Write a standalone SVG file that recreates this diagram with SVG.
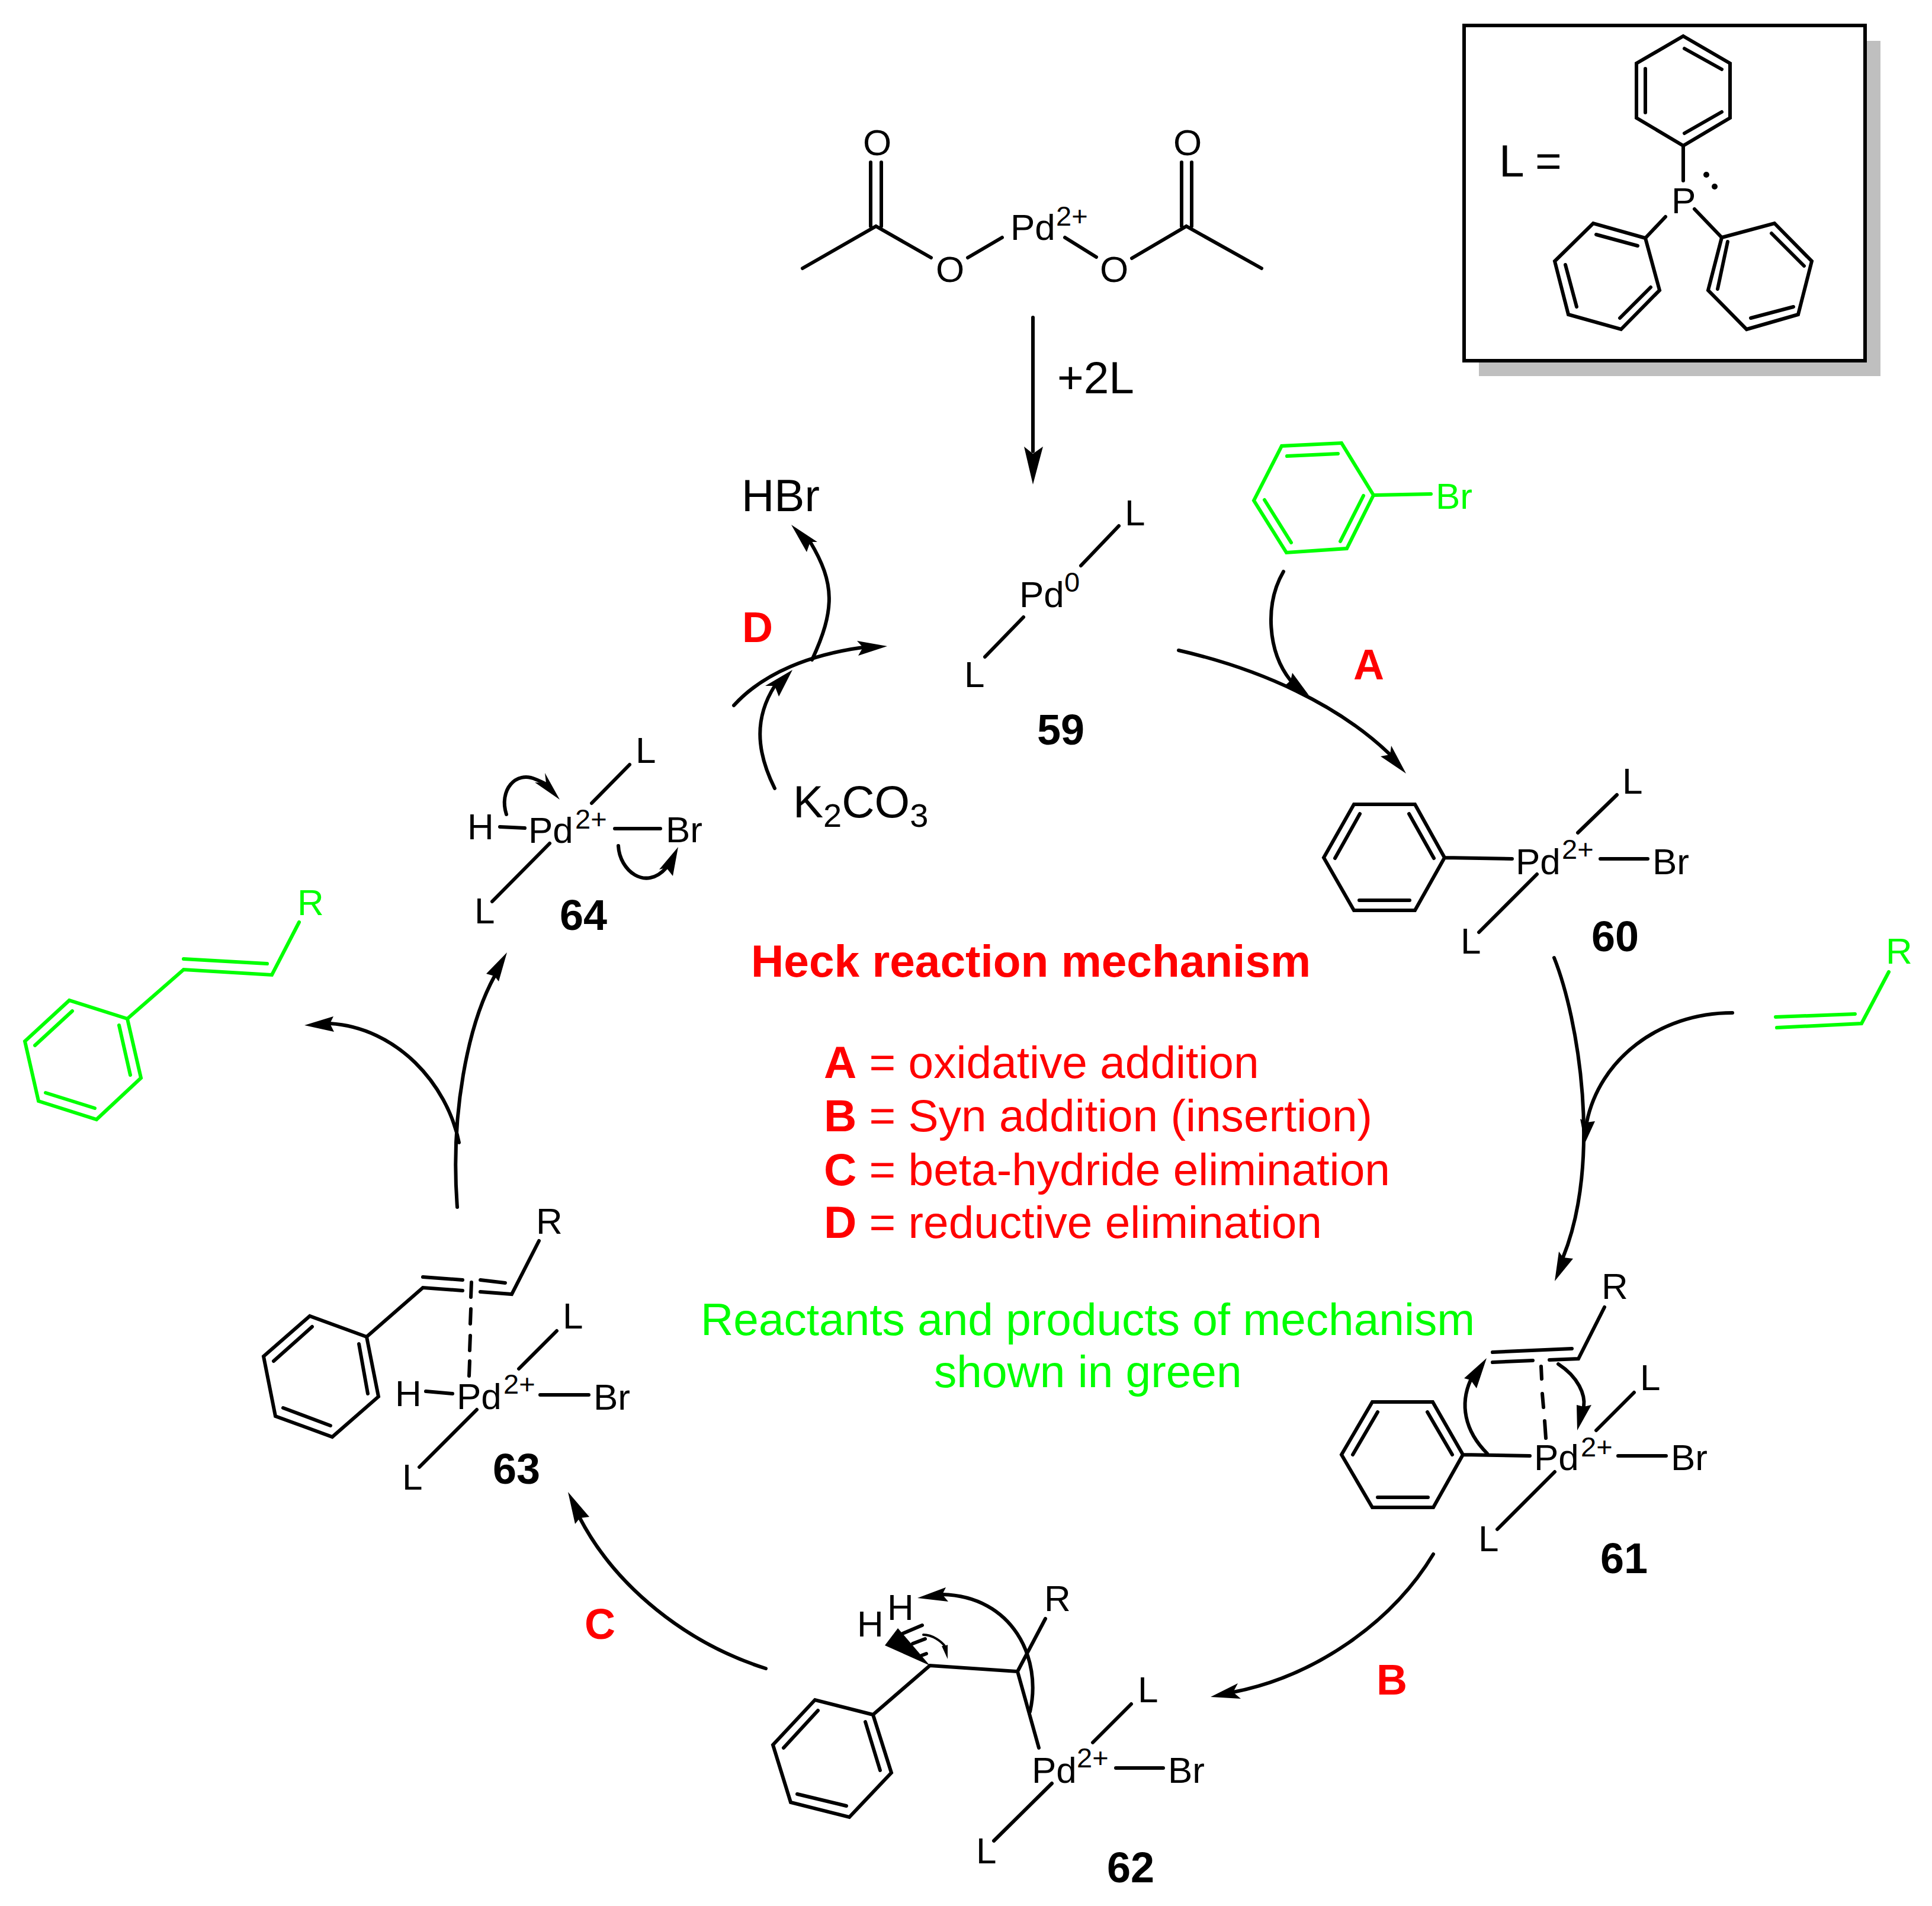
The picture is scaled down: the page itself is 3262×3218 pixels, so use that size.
<svg xmlns="http://www.w3.org/2000/svg" width="3262" height="3218" viewBox="0 0 3262 3218">
<style>
text{font-family:"Liberation Sans",Arial,sans-serif;fill:#000}
.s{font-size:62px}.m{font-size:76.6px}.u{font-size:47px}.n{font-size:72px;font-weight:700}.t{font-size:76.6px;font-weight:700}
.r{fill:#f00}.g{fill:#0f0}.bd{font-weight:700}
.b{fill:none;stroke:#000;stroke-width:6;stroke-linecap:round;stroke-linejoin:miter}
.gb{fill:none;stroke:#0f0;stroke-width:6;stroke-linecap:round;stroke-linejoin:miter}
.a{fill:none;stroke:#000;stroke-width:6;stroke-linecap:round}
.h{fill:#000;stroke:none}
</style>
<rect width="3262" height="3218" fill="#fff"/>

<g id="ligand-box">
<rect x="2497" y="69" width="678" height="566" fill="#bfbfbf"/>
<rect x="2472" y="43" width="677" height="566" fill="#fff" stroke="#000" stroke-width="6"/>
<text class="m" x="2531" y="298">L =</text>
<path class="b" d="M2842,61L2921,107L2921,199L2842,246L2763,199L2763,107ZM2844,82L2907,117M2778,116L2778,190M2907,189L2844,225M2842,246L2842,305M2812,366L2778,402M2861,353L2907,401"/>
<path class="b" d="M2778,402L2690,377L2625,441L2648,531L2737,556L2802,490ZM2765,415L2695,396M2643,447L2662,518M2735,537L2787,485"/>
<path class="b" d="M2907,401L2996,377L3059,441L3036,531L2949,556L2884,490ZM2991,394L3046,449M2917,408L2900,488M3028,518L2956,537"/>
<text class="s" x="2822" y="360">P</text>
<circle cx="2881" cy="295" r="5"/><circle cx="2895" cy="315" r="5"/>
</g>

<g id="pd-acetate">
<path class="b" d="M1355,453L1479,382L1572,435M1470,382L1470,274M1488,382L1488,274M1634,435L1692,401M1798,401L1851,434M1911,436L2003,382L2130,453M1995,382L1995,274M2012,382L2012,274"/>
<text class="s" x="1457" y="262">O</text>
<text class="s" x="1580" y="476">O</text>
<text class="s" x="1857" y="476">O</text>
<text class="s" x="1981" y="262">O</text>
<text class="s" x="1706" y="405">Pd<tspan class="u" x="1783" y="381">2+</tspan></text>
</g>

<g id="label-plus2L"><text class="m" x="1785" y="664">+2L</text></g>
<g id="hbr"><text class="m" x="1252" y="863">HBr</text></g>

<g id="compound-59">
<path class="b" d="M1889,888L1825,955M1728,1042L1663,1109"/>
<text class="s" x="1899" y="887">L</text>
<text class="s" x="1721" y="1025">Pd<tspan class="u" x="1797" y="999">0</tspan></text>
<text class="s" x="1628" y="1160">L</text>
<text class="n" x="1751" y="1257">59</text>
</g>

<g id="bromobenzene">
<path class="gb" d="M2319,836L2265,748L2164,753L2117,845L2172,933L2274,926ZM2259,766L2173,770M2135,844L2180,916M2302,837L2263,914M2319,836L2416,834"/>
<text class="s g" x="2424" y="859">Br</text>
</g>

<g id="compound-60">
<path class="b" d="M2439,1448L2389,1358L2286,1358L2235,1448L2286,1537L2389,1537ZM2379,1374L2421,1449M2296,1374L2254,1449M2295,1520L2380,1520M2439,1448L2553,1450M2702,1450L2782,1450M2664,1406L2730,1342M2595,1476L2497,1574"/>
<text class="s" x="2559" y="1476">Pd<tspan class="u" x="2637" y="1450">2+</tspan></text>
<text class="s" x="2790" y="1476">Br</text>
<text class="s" x="2739" y="1340">L</text>
<text class="s" x="2466" y="1610">L</text>
<text class="n" x="2687" y="1606">60</text>
</g>

<g id="alkene">
<path class="gb" d="M3000,1735L3143,1728L3189,1641M2998,1717L3132,1712"/>
<text class="s g" x="3184" y="1627">R</text>
</g>

<g id="compound-61">
<path class="b" d="M2709,2207L2665,2294L2616,2296M2588,2297L2520,2300M2520,2283L2654,2277M2602,2307L2603,2328M2604,2353L2606,2376M2608,2399L2610,2428"/>
<path class="b" d="M2470,2456L2419,2367L2317,2367L2265,2456L2317,2545L2420,2545ZM2410,2384L2452,2456M2326,2384L2284,2456M2326,2528L2411,2528M2470,2456L2583,2458M2732,2458L2813,2458M2695,2415L2759,2351M2625,2485L2528,2582"/>
<text class="s" x="2704" y="2193">R</text>
<text class="s" x="2590" y="2482">Pd<tspan class="u" x="2669" y="2459">2+</tspan></text>
<text class="s" x="2821" y="2482">Br</text>
<text class="s" x="2769" y="2347">L</text>
<text class="s" x="2496" y="2619">L</text>
<text class="n" x="2702" y="2656">61</text>
</g>

<g id="compound-62">
<path class="b" d="M1474,2895L1376,2870L1305,2946L1335,3043L1434,3068L1505,2993ZM1381,2888L1323,2951M1346,3029L1429,3049M1461,2907L1486,2989M1474,2895L1570,2812L1718,2822L1754,2951M1718,2822L1765,2733M1884,2985L1964,2985M1845,2942L1910,2877M1776,3011L1678,3108"/>
<path class="h" d="M1570,2812L1516,2749L1494,2778Z"/>
<path class="b" d="M1524,2758L1557,2744M1541,2775L1562,2767M1556,2795L1564,2792"/>
<text class="s" x="1447" y="2763">H</text>
<text class="s" x="1498" y="2735">H</text>
<text class="s" x="1763" y="2720">R</text>
<text class="s" x="1742" y="3010">Pd<tspan class="u" x="1818" y="2984">2+</tspan></text>
<text class="s" x="1972" y="3010">Br</text>
<text class="s" x="1921" y="2874">L</text>
<text class="s" x="1648" y="3146">L</text>
<text class="n" x="1869" y="3178">62</text>
</g>

<g id="compound-63">
<path class="b" d="M910,2095L864,2185L811,2181M781,2179L714,2174L619,2257M714,2156L781,2161M811,2161L853,2166M796,2165L795,2190M795,2210L794,2235M794,2255L793,2280M793,2298L792,2323"/>
<path class="b" d="M619,2257L523,2222L445,2290L465,2391L561,2426L639,2358ZM527,2240L462,2298M478,2377L558,2407M606,2269L621,2353M719,2349L764,2353M912,2355L994,2355M876,2311L940,2247M805,2380L708,2477"/>
<text class="s" x="905" y="2083">R</text>
<text class="s" x="667" y="2374">H</text>
<text class="s" x="771" y="2379">Pd<tspan class="u" x="850" y="2353">2+</tspan></text>
<text class="s" x="1002" y="2380">Br</text>
<text class="s" x="950" y="2243">L</text>
<text class="s" x="679" y="2515">L</text>
<text class="n" x="832" y="2505">63</text>
</g>

<g id="compound-64">
<path class="b" d="M844,1396L886,1398M1038,1399L1115,1399M999,1356L1063,1291M928,1424L831,1522"/>
<text class="s" x="789" y="1417">H</text>
<text class="s" x="892" y="1423">Pd<tspan class="u" x="971" y="1399">2+</tspan></text>
<text class="s" x="1124" y="1422">Br</text>
<text class="s" x="1073" y="1288">L</text>
<text class="s" x="801" y="1559">L</text>
<text class="n" x="945" y="1570">64</text>
</g>

<g id="product">
<path class="gb" d="M215,1720L117,1689L42,1758L65,1859L163,1890L238,1820ZM122,1707L59,1765M77,1845L160,1871M201,1731L220,1815M215,1720L310,1637L459,1646L505,1557M310,1619L451,1627"/>
<text class="s g" x="502" y="1545">R</text>
</g>

<g id="k2co3">
<text class="m" x="1339" y="1380">K<tspan y="1396" style="font-size:56px">2</tspan><tspan y="1380">CO</tspan><tspan style="font-size:56px" y="1396">3</tspan></text>
</g>

<g id="step-labels">
<text class="n r" x="2285" y="1147">A</text>
<text class="n r" x="2324" y="2861">B</text>
<text class="n r" x="987" y="2767">C</text>
<text class="n r" x="1253" y="1084">D</text>
</g>

<g id="legend">
<text class="t r" x="1268" y="1649">Heck reaction mechanism</text>
<text class="m r" x="1391" y="1820"><tspan class="bd">A</tspan> = oxidative addition</text>
<text class="m r" x="1391" y="1910"><tspan class="bd">B</tspan> = Syn addition (insertion)</text>
<text class="m r" x="1391" y="2001"><tspan class="bd">C</tspan> = beta-hydride elimination</text>
<text class="m r" x="1391" y="2090"><tspan class="bd">D</tspan> = reductive elimination</text>
<text class="m g" x="1183" y="2254">Reactants and products of mechanism</text>
<text class="m g" x="1577" y="2342">shown in green</text>
</g>

<g id="connectors">
<path class="a" d="M1744,536L1744,762"/><path class="h" d="M1744,818L1729,754L1744,766L1761,754Z"/>
<path class="a" d="M1239,1191C1290,1135 1370,1105 1457,1093"/><path class="h" d="M1498,1091L1447,1082L1457,1093L1449,1107Z"/>
<path class="a" d="M1371,1114C1410,1030 1410,985 1368,915"/><path class="h" d="M1336,886L1362,932L1368,915L1380,915Z"/>
<path class="a" d="M1308,1331C1275,1265 1275,1210 1308,1158"/><path class="h" d="M1338,1131L1292,1158L1308,1158L1315,1176Z"/>
<path class="a" d="M2167,965C2135,1020 2140,1100 2179,1149"/><path class="h" d="M2210,1174L2182,1136L2179,1149L2170,1157Z"/>
<path class="a" d="M1990,1098C2130,1130 2260,1190 2347,1274"/><path class="h" d="M2374,1306L2349,1259L2347,1274L2331,1277Z"/>
<path class="a" d="M2624,1617C2665,1720 2705,1960 2639,2123"/><path class="h" d="M2625,2163L2632,2113L2639,2123L2656,2125Z"/>
<path class="a" d="M2925,1710C2800,1710 2700,1790 2679,1895"/><path class="h" d="M2676,1930L2668,1889L2679,1895L2693,1893Z"/>
<path class="a" d="M2511,2454C2472,2415 2465,2370 2483,2330"/><path class="h" d="M2510,2293L2472,2327L2483,2330L2493,2344Z"/>
<path class="a" d="M2631,2303C2665,2325 2677,2355 2674,2375"/><path class="h" d="M2663,2415L2662,2372L2674,2375L2687,2372Z"/>
<path class="a" d="M2420,2624C2350,2740 2220,2830 2082,2857"/><path class="h" d="M2044,2865L2090,2842L2082,2857L2095,2868Z"/>
<path class="a" d="M1293,2817C1160,2775 1040,2680 979,2563"/><path class="h" d="M959,2519L995,2561L979,2563L971,2573Z"/>
<path class="a" d="M1739,2890C1760,2800 1710,2695 1591,2692"/><path class="h" d="M1549,2698L1597,2680L1591,2692L1601,2704Z"/>
<path class="a" style="stroke-width:4" d="M1559,2760C1575,2760 1590,2772 1595,2779"/><path class="h" d="M1600,2801L1600,2777L1595,2779L1590,2779Z"/>
<path class="a" d="M855,1375C842,1335 870,1300 905,1316C912,1319 918,1321 924,1325"/><path class="h" d="M945,1350L920,1305L922,1322L903,1321Z"/>
<path class="a" d="M1044,1428C1046,1470 1090,1505 1125,1465"/><path class="h" d="M1145,1430L1113,1468L1125,1465L1136,1479Z"/>
<path class="a" d="M775,1929C755,1830 670,1735 557,1728"/><path class="h" d="M514,1731L563,1716L557,1728L564,1742Z"/>
<path class="a" d="M772,2038C760,1880 790,1730 835,1648"/><path class="h" d="M856,1608L821,1644L835,1648L842,1657Z"/>
</g>
</svg>
